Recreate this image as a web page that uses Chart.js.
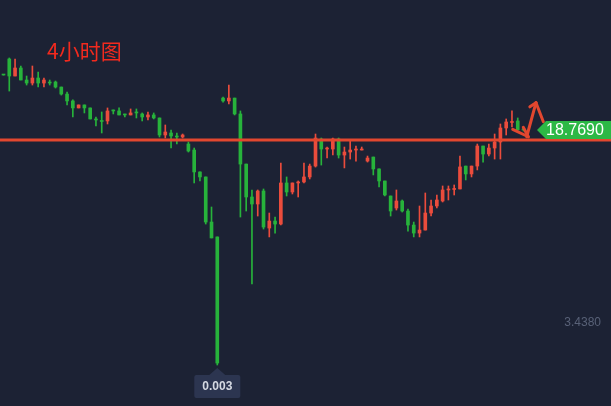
<!DOCTYPE html>
<html><head><meta charset="utf-8">
<script src="https://cdn.jsdelivr.net/npm/chart.js@4.4.1/dist/chart.umd.min.js"></script>
<style>html,body{margin:0;padding:0;background:#1c2234;}canvas{display:block}</style>
</head><body>
<canvas id="c" width="611" height="406"></canvas>
<script>
// ---- data ----
const opens = [23.17,24.44,23.08,23.72,22.76,22.52,22.92,22.52,22.60,22.60,
  22.20,21.64,21.09,20.53,20.77,20.53,19.65,19.53,19.49,20.37,
  20.29,20.05,19.97,20.21,20.05,19.81,19.97,19.73,18.37,18.53,
  18.29,18.21,17.65,17.17,15.42,15.02,11.42,10.23,21.32,21.09,
  21.32,20.05,16.05,13.42,12.86,13.90,10.94,11.50,11.26,14.54,
  13.82,14.54,14.62,15.02,15.89,18.05,17.25,17.25,18.05,16.77,
  17.01,17.17,17.17,16.29,16.61,15.66,14.70,13.50,12.54,13.10,
  12.30,11.18,10.54,10.78,12.14,12.70,13.10,13.98,14.02,14.06,
  15.89,15.26,15.89,17.49,16.85,17.33,17.81,18.93,19.37,19.49,
  18.85];
const closes = [23.16,23.08,23.72,22.76,22.52,22.92,22.52,22.76,22.52,22.20,
  21.64,21.09,20.53,20.77,20.53,19.65,19.57,19.45,20.29,20.29,
  19.97,19.97,20.13,20.13,19.81,19.97,19.73,18.37,18.61,18.29,
  18.21,18.37,17.09,15.42,15.02,11.42,10.15,0.16,21.09,21.32,
  20.05,16.05,13.42,12.86,13.90,11.02,11.50,11.26,14.54,13.82,
  14.54,14.62,15.02,15.89,18.13,17.25,17.33,18.05,16.77,17.01,
  17.17,17.25,17.25,16.53,15.66,14.70,13.58,12.30,13.10,12.30,
  11.18,10.54,10.78,12.14,12.70,13.18,13.98,14.06,14.06,15.82,
  15.26,15.89,17.49,16.85,17.33,17.81,18.93,19.41,19.41,18.77,
  18.769];
const highs = [23.18,24.52,24.44,23.88,23.08,23.88,23.40,22.92,22.76,22.68,
  22.20,21.80,21.17,20.77,20.77,20.53,19.81,20.21,20.53,20.37,
  20.53,20.05,20.45,20.45,20.13,20.21,20.13,19.73,19.17,18.77,
  18.53,18.45,17.81,17.33,15.42,15.02,12.62,10.23,21.40,22.36,
  21.32,20.29,16.05,13.98,13.98,14.06,12.14,11.82,16.13,15.02,
  14.54,14.70,16.13,16.05,18.45,18.13,17.41,18.13,18.13,17.41,
  17.89,17.49,17.41,16.69,16.61,15.66,14.70,13.50,13.98,13.18,
  12.46,11.42,12.70,13.74,13.18,13.58,14.30,14.30,14.38,16.69,
  15.89,15.89,17.65,17.49,17.65,18.45,19.25,19.65,20.29,19.73,
  18.93];
const lows = [23.15,21.88,23.08,22.76,22.36,22.36,22.20,22.20,22.36,22.12,
  21.56,20.77,19.81,20.53,20.13,19.65,19.09,18.53,19.25,20.05,
  19.97,19.81,19.97,19.73,19.49,19.57,19.65,18.21,18.13,17.33,
  17.65,18.13,17.01,14.54,14.70,11.26,10.15,0.003,21.00,20.85,
  19.97,11.82,12.30,6.47,11.90,10.86,10.23,10.54,11.18,13.50,
  13.66,13.42,14.54,14.86,15.81,15.97,16.53,16.77,16.53,15.74,
  16.45,16.29,17.17,16.21,15.18,14.22,13.50,11.90,12.38,12.22,
  10.70,10.23,10.23,10.78,11.90,12.54,13.02,13.18,13.58,14.06,
  14.78,15.02,15.58,16.21,16.69,16.45,16.45,18.37,19.01,18.77,
  18.69];
const drawnLineLevel = 18.01;
const sideLabelValues = [3.438];
const titleText = '4小时图';
// hand-drawn arrow strokes, in (candle index, price)
const arrowStrokes = [
  [[90.55,18.23],[92.16,20.95]],
  [[92.16,20.95],[93.43,19.43]],
  [[92.16,20.95],[91.1,20.62]],
  [[88.13,18.825],[90.83,18.23]],
  [[89.96,18.985],[90.83,18.23]]
];

// ---- styles ----
const BG = '#1c2234';
const UP = '#eb4c3c';
const DOWN = '#27b33b';
const LINE = '#e2472f';

const idx = opens.map((_, i) => i);
const colors = idx.map(i => closes[i] >= opens[i] ? UP : DOWN);

const bgPlugin = {
  id: 'bg',
  beforeDraw(chart) {
    const c = chart.ctx;
    c.save(); c.fillStyle = BG; c.fillRect(0, 0, chart.width, chart.height); c.restore();
  }
};

const overlayPlugin = {
  id: 'overlay',
  afterDraw(chart) {
    const c = chart.ctx, xs = chart.scales.x, ys = chart.scales.y, area = chart.chartArea;
    c.save();
    // horizontal drawn line
    const ly = ys.getPixelForValue(drawnLineLevel);
    c.fillStyle = LINE;
    c.fillRect(area.left, Math.round(ly) - 1.5, area.right - area.left, 3);
    // arrow annotation
    c.strokeStyle = LINE; c.lineWidth = 3; c.lineCap = 'round';
    arrowStrokes.forEach(s => {
      c.beginPath();
      c.moveTo(xs.getPixelForValue(s[0][0]), ys.getPixelForValue(s[0][1]));
      c.lineTo(xs.getPixelForValue(s[1][0]), ys.getPixelForValue(s[1][1]));
      c.stroke();
    });
    // last price tag
    const last = closes[closes.length - 1];
    const py = ys.getPixelForValue(last);
    const tx = area.right - 74;
    c.fillStyle = '#2cb845';
    c.beginPath();
    c.moveTo(tx, py);
    c.lineTo(tx + 9, py - 9);
    c.lineTo(area.right, py - 9);
    c.lineTo(area.right, py + 9);
    c.lineTo(tx + 9, py + 9);
    c.closePath(); c.fill();
    c.fillStyle = '#ffffff';
    c.font = '16px "Liberation Sans", Arial, sans-serif';
    c.textBaseline = 'middle'; c.textAlign = 'left';
    c.fillText(last.toFixed(4), tx + 9, py + 1);
    // side labels
    c.fillStyle = '#586177';
    c.font = '12px "Liberation Sans", Arial, sans-serif';
    c.textAlign = 'right';
    sideLabelValues.forEach(v => c.fillText(v.toFixed(4), area.right - 10, ys.getPixelForValue(v) + 1));
    // lowest-low marker
    let mi = 0; lows.forEach((v, i) => { if (v < lows[mi]) mi = i; });
    const mx = xs.getPixelForValue(mi), my = ys.getPixelForValue(lows[mi]);
    const boxTop = my + 10;
    c.fillStyle = '#2c3550';
    c.beginPath();
    c.moveTo(mx, my + 3);
    c.lineTo(mx + 8, boxTop);
    c.lineTo(mx - 8, boxTop);
    c.closePath(); c.fill();
    c.beginPath();
    c.roundRect(mx - 23, boxTop, 46, 23, 2);
    c.fill();
    c.fillStyle = '#d5d9e2';
    c.font = 'bold 12px "Liberation Sans", Arial, sans-serif';
    c.textAlign = 'center';
    c.fillText(lows[mi].toFixed(3), mx, boxTop + 12);
    // title
    c.fillStyle = '#f22a1e';
    c.font = '21px "Noto Sans CJK SC", sans-serif';
    c.textAlign = 'left'; c.textBaseline = 'alphabetic';
    c.fillText(titleText, 47, 59);
    c.restore();
  }
};

new Chart(document.getElementById('c').getContext('2d'), {
  type: 'bar',
  data: {
    datasets: [
      { data: idx.map(i => ({ x: i, y: [lows[i], highs[i]] })), backgroundColor: colors,
        barThickness: 1, grouped: false, order: 2 },
      { data: idx.map(i => ({ x: i, y: [opens[i], closes[i]] })), backgroundColor: colors,
        barThickness: 3, grouped: false, minBarLength: 1, order: 1 }
    ]
  },
  options: {
    responsive: false, animation: false, devicePixelRatio: 1,
    layout: { padding: 0 },
    scales: {
      x: { type: 'linear', min: -0.606, max: 105.14, offset: false, display: false },
      y: { min: -3.27, max: 29.15, display: false }
    },
    plugins: { legend: { display: false }, tooltip: { enabled: false } }
  },
  plugins: [bgPlugin, overlayPlugin]
});
</script>
</body></html>
